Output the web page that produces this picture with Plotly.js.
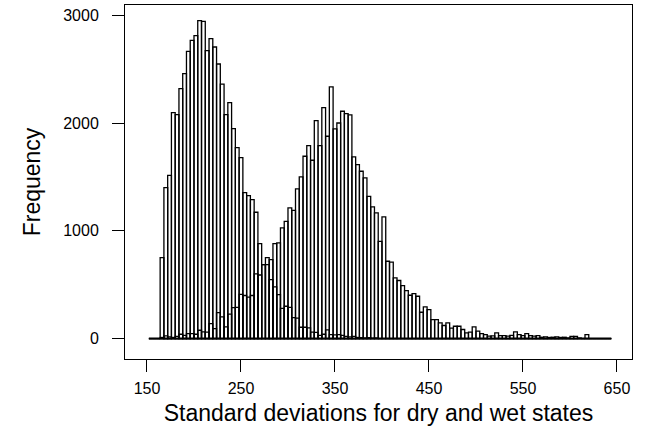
<!DOCTYPE html>
<html>
<head>
<meta charset="utf-8">
<script src="https://cdn.plot.ly/plotly-3.0.1.min.js"></script>
<style>html,body{margin:0;padding:0;background:#fff}#chart{width:649px;height:430px}</style>
</head>
<body>
<div id="chart"></div>
<script>
// Left edges of the histogram bins (width 4)
const binLeft = [152,156,160,164,168,172,176,180,184,188,192,196,200,204,208,212,216,220,224,228,232,236,240,244,248,252,256,260,264,268,272,276,280,284,288,292,296,300,304,308,312,316,320,324,328,332,336,340,344,348,352,356,360,364,368,372,376,380,384,388,392,396,400,404,408,412,416,420,424,428,432,436,440,444,448,452,456,460,464,468,472,476,480,484,488,492,496,500,504,508,512,516,520,524,528,532,536,540,544,548,552,556,560,564,568,572,576,580,584,588,592,596,600,604,608,612,616,620,624,628,632,636,640];
const binWidth = 4;

// Frequencies: dry state
const dryCounts = [0,0,0,752,1402,1516,2098,2080,2321,2460,2668,2770,2813,2952,2945,2675,2785,2708,2550,2364,2080,2191,1950,1773,1680,1355,1328,1290,1173,882,687,687,548,480,408,280,300,290,195,190,105,105,100,60,58,30,40,80,37,35,37,30,20,15,20,10,8,5,8,3,5,
0,0,0,0,0,0,0,0,0,0,0,0,0,0,0,0,0,0,0,0,0,0,0,0,0,0,0,0,0,0,0,0,0,0,0,0,0,0,0,0,0,0,0,0,0,0,0,0,0,0,0,0,0,0,0,0,0,0,0,0,0,0];

// Frequencies: wet state
const wetCounts = [0,0,0,10,24,15,10,20,40,30,46,46,40,77,62,60,139,93,241,201,108,226,288,290,411,400,384,400,600,590,687,752,733,882,888,1028,1089,1213,1191,1390,1501,1693,1792,1656,2024,1792,2145,1879,2337,1947,2002,2111,2089,2077,1687,1616,1554,1492,1321,1223,1167,903,1130,718,709,563,539,492,446,402,418,393,244,294,269,176,176,146,121,146,96,114,114,84,53,59,109,69,46,37,22,25,53,28,28,22,30,62,37,28,46,28,22,28,12,15,10,12,15,10,12,5,20,20,5,0,37,0,0,0,0,0,0];

const xTicks = [150,250,350,450,550,650];
const yTicks = [0,1000,2000,3000];
const xTitle = 'Standard deviations for dry and wet states';
const yTitle = 'Frequency';

const centers = binLeft.map(v => v + binWidth / 2);
const FONT = '"Liberation Sans", Arial, Helvetica, sans-serif';

function barTrace(counts, name) {
  return {
    type: 'bar', name: name,
    x: centers, y: counts, width: binWidth,
    marker: {color: 'rgba(0,0,0,0)', line: {color: '#000', width: 1.3}},
    hoverinfo: 'skip'
  };
}

const baseline = {
  type: 'scatter', mode: 'lines',
  x: [binLeft[0], binLeft[binLeft.length - 1] + binWidth], y: [0, 0],
  line: {color: '#000', width: 2}, hoverinfo: 'skip'
};

const axisCommon = {
  showline: true, mirror: true, linecolor: '#000', linewidth: 1,
  ticks: 'outside', ticklen: 12, tickwidth: 1, tickcolor: '#000',
  showgrid: false, zeroline: false,
  tickfont: {family: FONT, size: 16, color: '#000'}
};

const layout = {
  width: 649, height: 430,
  margin: {l: 125, r: 17, t: 5, b: 71},
  paper_bgcolor: '#fff', plot_bgcolor: '#fff',
  showlegend: false, barmode: 'overlay', bargap: 0,
  font: {family: FONT, color: '#000'},
  xaxis: Object.assign({}, axisCommon, {
    range: [126.6, 666], tickmode: 'array', tickvals: xTicks, ticktext: xTicks.map(String),
    ticklabelstandoff: 3,
    title: {text: xTitle, font: {family: FONT, size: 23, color: '#000'}, standoff: 8}
  }),
  yaxis: Object.assign({}, axisCommon, {
    range: [-190, 3098], tickmode: 'array', tickvals: yTicks, ticktext: yTicks.map(String),
    ticklabelstandoff: 10,
    title: {text: yTitle, font: {family: FONT, size: 23, color: '#000'}, standoff: 16}
  })
};

Plotly.newPlot('chart', [barTrace(dryCounts, 'dry'), barTrace(wetCounts, 'wet'), baseline], layout,
  {staticPlot: true, displayModeBar: false});
</script>
</body>
</html>
